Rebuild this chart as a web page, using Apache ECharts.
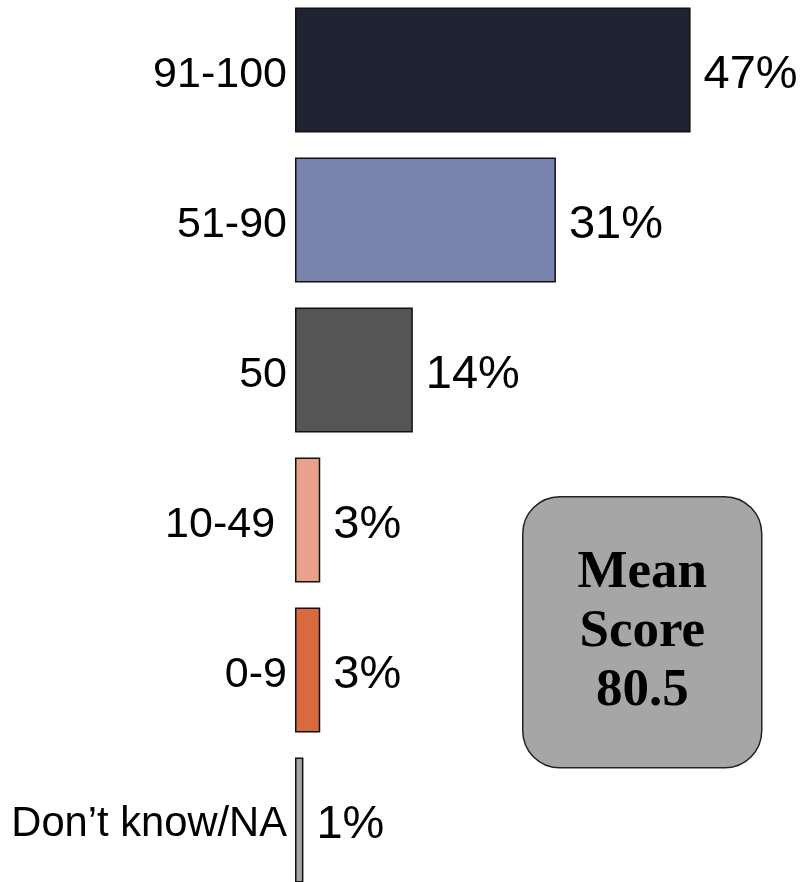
<!DOCTYPE html>
<html>
<head>
<meta charset="utf-8">
<script src="https://cdn.jsdelivr.net/npm/echarts@6/dist/echarts.min.js"></script>
<style>
html,body{margin:0;padding:0;background:#fff;overflow:hidden;width:800px;height:882px;}
#chart{width:800px;height:900px;position:absolute;left:0;top:-5px;}
</style>
</head>
<body>
<div id="chart"></div>
<script>
var categories = ['91-100', '51-90', '50', '10-49 ', '0-9', 'Don\u2019t know/NA'];
var values = [47, 31, 14, 3, 3, 1];
var barColors = ['#202334', '#7a82ae', '#555555', '#e8a18a', '#d96a40', '#a6a6a6'];
var meanLabel = ['Mean', 'Score'];
var meanScore = 80.5;

var chart = echarts.init(document.getElementById('chart'), null, {renderer: 'canvas'});
chart.setOption({
  animation: false,
  backgroundColor: '#ffffff',
  grid: {left: 295, top: 0, width: 507, height: 900, containLabel: false},
  xAxis: {
    type: 'value', min: 0, max: 60, show: false
  },
  yAxis: {
    type: 'category', data: categories, inverse: true,
    axisLine: {show: false}, axisTick: {show: false}, splitLine: {show: false},
    axisLabel: {
      fontSize: 43, color: '#000', margin: 8, padding: [10, 0, 0, 0],
      fontFamily: 'Liberation Sans, Arial, sans-serif',
      formatter: function (v, i) { return i === categories.length - 1 ? '{s|' + v + '}' : v; },
      rich: {s: {fontSize: 41.7, color: '#000', fontFamily: 'Liberation Sans, Arial, sans-serif'}}
    }
  },
  series: [{
    type: 'bar',
    data: values.map(function (v, i) { return {value: v, itemStyle: {color: barColors[i]}}; }),
    barWidth: 125,
    itemStyle: {borderColor: '#111', borderWidth: 1.5},
    label: {
      show: true, position: 'right', distance: 13, formatter: '{c}%', offset: [0, 5],
      fontSize: 47, color: '#000', fontFamily: 'Liberation Sans, Arial, sans-serif'
    }
  }],
  graphic: [{
    type: 'group',
    left: 522, top: 501,
    children: [{
      type: 'rect',
      shape: {x: 0, y: 0, width: 239, height: 271, r: 37},
      style: {fill: '#a6a6a6', stroke: '#222', lineWidth: 1.5}
    }, {
      type: 'text',
      x: 119.5, y: 136,
      style: {
        text: meanLabel.join('\n') + '\n' + meanScore.toFixed(1),
        align: 'center', verticalAlign: 'middle',
        font: 'bold 53px "Liberation Serif", "Times New Roman", serif',
        lineHeight: 59, fill: '#000'
      }
    }]
  }]
});
</script>
</body>
</html>
